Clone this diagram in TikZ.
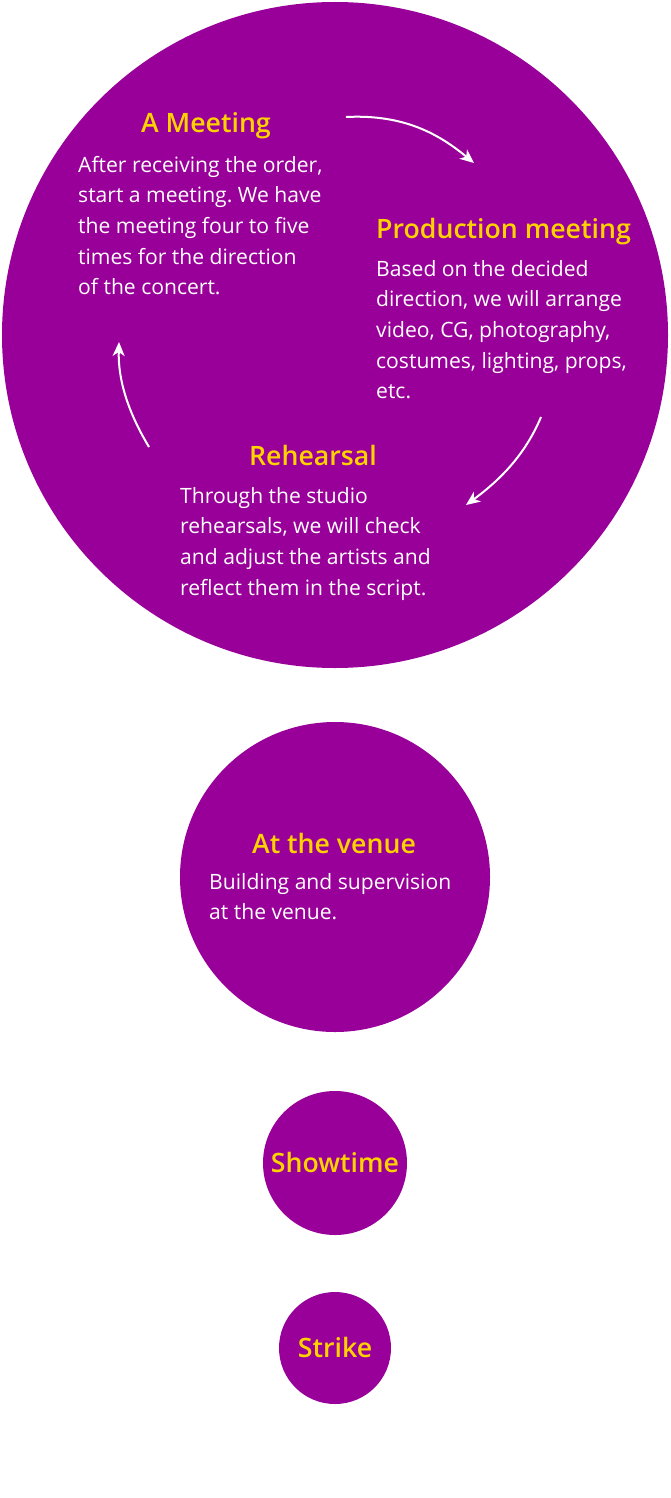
\documentclass[tikz,border=0pt]{standalone}
\usepackage{fontspec}
\setmainfont{Open Sans}
\newfontfamily\titlefont{Open Sans Semibold}
\usetikzlibrary{arrows.meta}
\frenchspacing

\definecolor{stagepurple}{HTML}{990099}
\definecolor{titleyellow}{HTML}{FFD200}

\tikzstyle{stage} = [circle,fill=stagepurple,draw=none,inner sep=0pt]
\tikzstyle{title} = [font=\titlefont\fontsize{26.7}{30}\selectfont,text=titleyellow,inner sep=0pt,anchor=base]
\tikzstyle{body} = [font=\fontsize{21.1}{30.6}\selectfont,text=white,align=left,inner sep=0pt,anchor=north west]
\tikzstyle{flow} = [draw=white,line width=2pt,-{Stealth[length=14pt,width=12pt,inset=4pt]}]

\begin{document}
\begin{tikzpicture}[x=1pt,y=-1pt]
	\useasboundingbox (0,0) rectangle (670,1498);
	% circles
	\node (cycle) [stage,minimum size=666pt] at (335,335) {};
	\node (venuedot) [stage,minimum size=310pt] at (335,877) {};
	\node (showdot) [stage,minimum size=144pt] at (335,1163) {};
	\node (strikedot) [stage,minimum size=112pt] at (335,1348) {};
	% cycle texts
	\node (meeting) [title] at (206,133) {A Meeting};
	\node (meetingtxt) [body] at (78,156) {After receiving the order,\\start a meeting. We have\\the meeting four to five\\times for the direction\\of the concert.};
	\node (production) [title,anchor=base west] at (376,238) {Production meeting};
	\node (productiontxt) [body] at (376,260) {Based on the decided\\direction, we will arrange\\video, CG, photography,\\costumes, lighting, props,\\etc.};
	\node (rehearsal) [title] at (313,465) {Rehearsal};
	\node (rehearsaltxt) [body] at (180,487) {Through the studio\\rehearsals, we will check\\and adjust the artists and\\reflect them in the script.};
	% later stages
	\node (venue) [title] at (334,853) {At the venue};
	\node (venuetxt) [body] at (209,873) {Building and supervision\\at the venue.};
	\node (showtime) [title] at (335,1172) {Showtime};
	\node (strike) [title] at (335,1357) {Strike};
	% connections
	\coordinate (m2p) at (346,117);
	\coordinate (p2m) at (474,163);
	\coordinate (p2r) at (541,417);
	\coordinate (r2p) at (466,505);
	\coordinate (r2m) at (149,447);
	\coordinate (m2r) at (119,342);
	\draw [flow] (m2p) .. controls (405,114) and (440,135) .. (p2m);
	\draw [flow] (p2r) .. controls (525,455) and (500,480) .. (r2p);
	\draw [flow] (r2m) .. controls (128,412) and (118,380) .. (m2r);
\end{tikzpicture}
\end{document}
